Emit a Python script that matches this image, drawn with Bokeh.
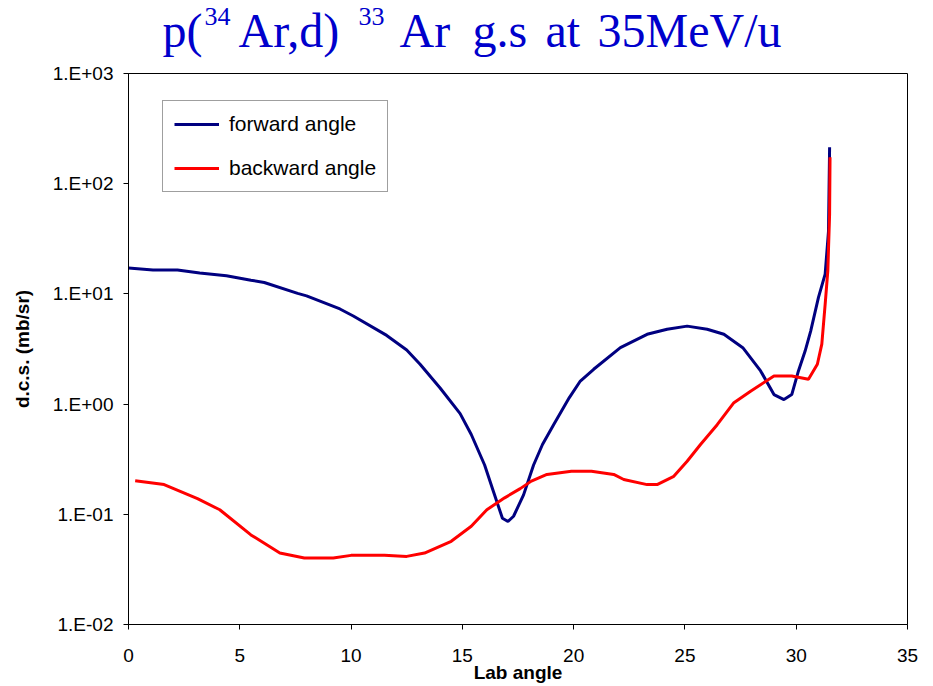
from bokeh.plotting import figure
from bokeh.layouts import column
from bokeh.models import Range1d, FixedTicker, Legend, LegendItem
from bokeh.core.properties import value
from bokeh.embed import file_html
from bokeh.resources import INLINE

# ---- data ----
fwd_x = [0, 1.1, 2.2, 3.2, 4.4, 5.5, 6.1, 7.6, 8.0, 9.5, 10.1, 11.6, 12.5, 13.1,
         14.0, 14.9, 15.4, 16.0, 16.4, 16.8, 17.05, 17.3, 17.75, 18.2, 18.6, 19.1,
         19.8, 20.3, 20.9, 22.1, 23.3, 24.2, 25.1, 26.0, 26.75, 27.6, 28.4, 29.0,
         29.45, 29.8, 30.1, 30.4, 30.65, 31.0, 31.3, 31.45, 31.5]
fwd_y = [17.2, 16.5, 16.5, 15.5, 14.6, 13.3, 12.7, 10.1, 9.6, 7.3, 6.3, 4.2, 3.1, 2.3,
         1.4, 0.82, 0.53, 0.28, 0.16, 0.092, 0.086, 0.096, 0.15, 0.28, 0.43, 0.65,
         1.14, 1.62, 2.07, 3.25, 4.3, 4.78, 5.1, 4.78, 4.3, 3.25, 2.0, 1.22,
         1.1, 1.22, 2.0, 3.03, 4.6, 9.3, 15.1, 37.0, 214.0]

bwd_x = [0.3, 1.6, 3.1, 4.1, 5.5, 6.8, 7.9, 9.2, 10.0, 11.5, 12.5, 13.3, 14.5, 15.4,
         16.1, 16.9, 17.6, 18.1, 18.8, 19.9, 20.8, 21.8, 22.25, 23.3, 23.75, 24.5,
         25.1, 25.7, 26.45, 27.2, 27.95, 29.0, 29.8, 30.55, 30.95, 31.15, 31.3,
         31.42, 31.5, 31.52]
bwd_y = [0.202, 0.186, 0.139, 0.110, 0.065, 0.0445, 0.0401, 0.0401, 0.0424, 0.0424,
         0.0415, 0.0445, 0.0569, 0.0778, 0.110, 0.141, 0.171, 0.2, 0.23, 0.246, 0.246,
         0.23, 0.207, 0.186, 0.186, 0.221, 0.303, 0.43, 0.65, 1.03, 1.31, 1.8, 1.8,
         1.68, 2.3, 3.5, 8.05, 16.2, 53.0, 174.0]

x_ticks = [0, 5, 10, 15, 20, 25, 30, 35]
y_ticks = [0.01, 0.1, 1, 10, 100, 1000]
y_tick_labels = ["1.E-02", "1.E-01", "1.E+00", "1.E+01", "1.E+02", "1.E+03"]
series_names = ["forward angle", "backward angle"]
title_parts = ["p(", "34", "Ar,d)", "33", "Ar", "g.s", "at", "35MeV/u"]
title_is_sup = [False, True, False, True, False, False, False, False]

LEFT, RIGHT = 128, 26
TITLE_H = 62

# ---- title strip (its own small figure, pixel coordinates) ----
tp = figure(width=933, height=TITLE_H, x_range=Range1d(LEFT, 933 - RIGHT),
            y_range=Range1d(TITLE_H, 0), title_location=None,
            output_backend="svg", toolbar_location=None,
            min_border_left=LEFT, min_border_right=RIGHT,
            min_border_top=0, min_border_bottom=0)
tp.axis.visible = False
tp.grid.visible = False
tp.outline_line_color = None
tp.background_fill_color = "white"
tp.border_fill_color = "white"

title_x = [162, 204, 238, 358, 399, 472, 545, 597]
MAIN_BASE, SUP_BASE = 30, 16
main_parts = dict(x=[], y=[], t=[])
sup_parts = dict(x=[], y=[], t=[])
for txt, xx, sup in zip(title_parts, title_x, title_is_sup):
    d = sup_parts if sup else main_parts
    d["x"].append(xx)
    d["y"].append(SUP_BASE if sup else MAIN_BASE)
    d["t"].append(txt)
tp.text(x=main_parts["x"], y=main_parts["y"], text=main_parts["t"],
        text_font=value("Liberation Serif"), text_font_size="48px",
        text_color="#0000CC", text_align="left", text_baseline="alphabetic")
tp.text(x=sup_parts["x"], y=sup_parts["y"], text=sup_parts["t"],
        text_font=value("Liberation Serif"), text_font_size="26px",
        text_color="#0000CC", text_align="left", text_baseline="alphabetic")

# ---- main figure ----
p = figure(width=933, height=686 - TITLE_H, y_axis_type="log",
           x_range=Range1d(0, 35), y_range=Range1d(0.01, 1000),
           output_backend="svg", toolbar_location=None,
           min_border_left=LEFT, min_border_right=RIGHT,
           min_border_top=73 - TITLE_H, min_border_bottom=62)
p.background_fill_color = "white"
p.border_fill_color = "white"
p.outline_line_color = "black"
p.outline_line_width = 1
p.xgrid.visible = False
p.ygrid.visible = False

for ax in (p.xaxis[0], p.yaxis[0]):
    ax.axis_line_color = "black"
    ax.axis_line_width = 1
    ax.major_tick_line_color = "black"
    ax.major_tick_in = 0
    ax.major_tick_out = 5
    ax.minor_tick_line_color = None
    ax.major_label_text_font = "Liberation Sans"
    ax.major_label_text_font_size = "19px"
    ax.major_label_text_color = "black"
    ax.axis_label_text_font = "Liberation Sans"
    ax.axis_label_text_font_style = "bold"
    ax.axis_label_text_font_size = "19px"
    ax.axis_label_text_color = "black"

p.xaxis[0].ticker = FixedTicker(ticks=x_ticks)
p.xaxis[0].major_label_standoff = 19
p.xaxis[0].axis_label = "Lab angle"
p.xaxis[0].axis_label_standoff = -3

p.yaxis[0].ticker = FixedTicker(ticks=y_ticks)
p.yaxis[0].major_label_overrides = {t: s for t, s in zip(y_ticks, y_tick_labels)}
p.yaxis[0].major_label_standoff = 10
p.yaxis[0].axis_label = "d.c.s. (mb/sr)"
p.yaxis[0].axis_label_standoff = 17

r_fwd = p.line(fwd_x, fwd_y, line_color="#000080", line_width=3)
r_bwd = p.line(bwd_x, bwd_y, line_color="#FF0000", line_width=3)

legend = Legend(items=[LegendItem(label=series_names[0], renderers=[r_fwd]),
                       LegendItem(label=series_names[1], renderers=[r_bwd])],
                location=(34, 432), orientation="vertical",
                padding=11, spacing=20, glyph_width=45, glyph_height=20,
                label_height=20, label_standoff=10, margin=0,
                label_text_font="Liberation Sans", label_text_font_size="21px",
                label_text_color="black",
                border_line_color="#404040", border_line_width=1,
                background_fill_color="white", background_fill_alpha=1)
p.add_layout(legend)

layout = column(tp, p, spacing=0)
open("out.html", "w").write(file_html(layout, INLINE))
